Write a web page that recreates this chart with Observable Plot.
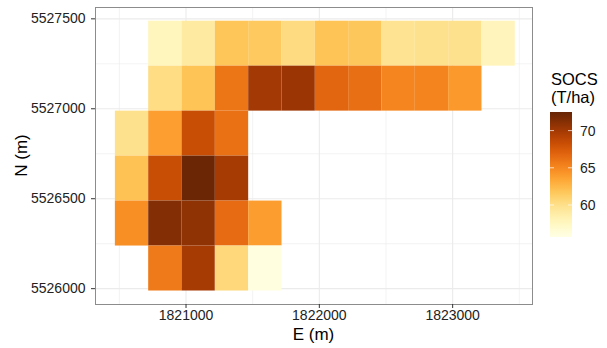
<!DOCTYPE html>
<html><head><meta charset="utf-8">
<script src="https://cdn.jsdelivr.net/npm/d3@7"></script>
<script src="https://cdn.jsdelivr.net/npm/@observablehq/plot@0.6"></script>
<style>
body{margin:0;background:#fff;}
#chart svg{font-family:"Liberation Sans",Arial,sans-serif;display:block;}
</style>
</head><body><div id="chart"></div>
<script>
// Column centre eastings (m) and row centre northings (m), cells 250 m
const colEasting = [1820595, 1820845, 1821095, 1821345, 1821595, 1821845, 1822095, 1822345, 1822595, 1822845, 1823095, 1823345];
const rowNorthing = [5527362, 5527112, 5526862, 5526612, 5526362, 5526112];
const rowStartCol = [1, 1, 0, 0, 0, 1];
// SOCS (T/ha) per row, west to east
const socsRow0 = [57.7, 59.1, 61.8, 61.6, 60.4, 61.9, 61.7, 59.7, 59.9, 59.9, 57.8];
const socsRow1 = [60.2, 61.9, 66.0, 70.0, 70.3, 66.8, 66.3, 65.1, 65.2, 64.1];
const socsRow2 = [59.9, 63.8, 68.3, 66.2];
const socsRow3 = [62.0, 68.3, 72.3, 69.8];
const socsRow4 = [64.6, 71.3, 70.8, 66.5, 63.9];
const socsRow5 = [65.7, 69.8, 60.6, 56.0];
const cellSize = 250;
const xTicks = [1821000, 1822000, 1823000];
const yTicks = [5526000, 5526500, 5527000, 5527500];
const xMinor = [1820500, 1821500, 1822500, 1823500];
const yMinor = [5526250, 5526750, 5527250];
const legendTicks = [60, 65, 70];
const colorDomain = [55.7, 72.5];

const allRows = [socsRow0, socsRow1, socsRow2, socsRow3, socsRow4, socsRow5];
const cells = allRows.flatMap((r, i) => r.map((v, k) => ({e: colEasting[rowStartCol[i] + k], n: rowNorthing[i], v})));
const half = cellSize / 2;

const W = 607, H = 348;
const mL = 95, mR = 75, mT = 7, mB = 44;
const gridColor = "#ebebeb";

const plot = Plot.plot({
  width: W, height: H,
  marginLeft: mL, marginRight: mR, marginTop: mT, marginBottom: mB,
  style: {fontSize: "14px", color: "#333", background: "#fff"},
  x: {domain: [1820321, 1823599], label: null},
  y: {domain: [5525912, 5527563], label: null},
  color: {type: "linear", scheme: "YlOrBr", domain: colorDomain},
  marks: [
    Plot.ruleX(xMinor, {stroke: gridColor, strokeWidth: 0.6}),
    Plot.ruleY(yMinor, {stroke: gridColor, strokeWidth: 0.6}),
    Plot.ruleX(xTicks, {stroke: gridColor, strokeWidth: 1.1}),
    Plot.ruleY(yTicks, {stroke: gridColor, strokeWidth: 1.1}),
    Plot.rect(cells, {x1: d => d.e - half, x2: d => d.e + half, y1: d => d.n - half, y2: d => d.n + half, fill: "v"}),
    Plot.frame({stroke: "#8c8c8c", strokeWidth: 1}),
    Plot.axisX(xTicks, {tickSize: 4, tickPadding: 2, tickFormat: "d", stroke: "#333", fill: "#222", fontSize: 14}),
    Plot.axisY(yTicks, {tickSize: 4, tickPadding: 6, tickFormat: "d", stroke: "#333", fill: "#222", fontSize: 14})
  ]
});

const svg = d3.select(plot);
// Axis titles
svg.append("text").attr("x", (mL + W - mR) / 2).attr("y", 340).attr("text-anchor", "middle")
  .attr("font-size", 17).attr("fill", "#000").text("E (m)");
svg.append("text").attr("transform", `translate(27,${(mT + H - mB) / 2}) rotate(-90)`).attr("text-anchor", "middle")
  .attr("font-size", 17).attr("fill", "#000").text("N (m)");

// Vertical colour bar legend
const color = plot.scale("color");
const lx = 550, ly = 112, lw = 22, lh = 125;
const ly2v = d3.scaleLinear().domain(colorDomain).range([ly + lh, ly]);
const defs = svg.append("defs");
const grad = defs.append("linearGradient").attr("id", "socsGrad").attr("x1", 0).attr("x2", 0).attr("y1", 1).attr("y2", 0);
d3.range(0, 1.0001, 0.05).forEach(t => {
  const v = colorDomain[0] + t * (colorDomain[1] - colorDomain[0]);
  grad.append("stop").attr("offset", t).attr("stop-color", color.apply(v));
});
svg.append("rect").attr("x", lx).attr("y", ly).attr("width", lw).attr("height", lh).attr("fill", "url(#socsGrad)");
legendTicks.forEach(t => {
  const y = ly2v(t);
  svg.append("line").attr("x1", lx).attr("x2", lx + 4).attr("y1", y).attr("y2", y).attr("stroke", "#fff").attr("stroke-opacity", 0.7);
  svg.append("line").attr("x1", lx + lw - 4).attr("x2", lx + lw).attr("y1", y).attr("y2", y).attr("stroke", "#fff").attr("stroke-opacity", 0.7);
  svg.append("text").attr("x", lx + lw + 8).attr("y", y).attr("dy", "0.35em").attr("text-anchor", "start")
    .attr("font-size", 14).attr("fill", "#222").text(t);
});
svg.append("text").attr("x", lx + 1).attr("y", 85).attr("text-anchor", "start").attr("font-size", 16.5).attr("fill", "#000").text("SOCS");
svg.append("text").attr("x", lx + 1).attr("y", 103).attr("text-anchor", "start").attr("font-size", 16.5).attr("fill", "#000").text("(T/ha)");

document.getElementById("chart").appendChild(plot);
</script>
</body></html>
